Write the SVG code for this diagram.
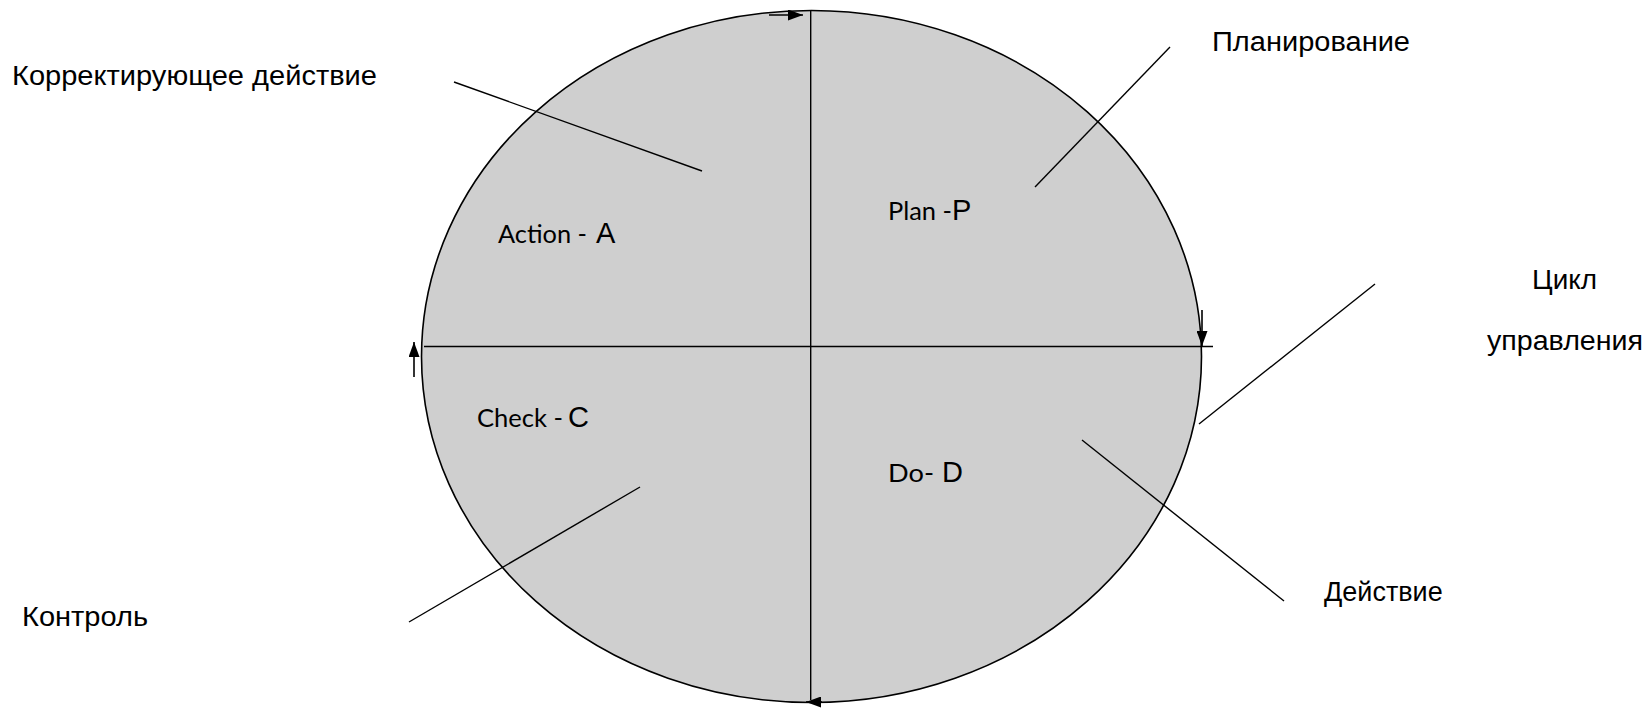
<svg xmlns="http://www.w3.org/2000/svg" width="1648" height="709" viewBox="0 0 1648 709">
  <style>
    .ln { stroke: #000; stroke-width: 1.4; fill: none; }
    .arr { stroke: #000; stroke-width: 1.6; fill: none; marker-end: url(#head); }
    .lbl { font-family: "Liberation Sans", Arial, sans-serif; font-size: 27px; fill: #000; }
    .in { font-family: Lato, "Open Sans", sans-serif; font-size: 25px; fill: #000; }
    .big { font-family: "Liberation Sans", Arial, sans-serif; font-size: 29px; fill: #000; }
  </style>
  <defs>
    <marker id="head" markerUnits="userSpaceOnUse" markerWidth="15" markerHeight="11" refX="15" refY="5.5" orient="auto">
      <path d="M0,0 L15,5.5 L0,11 z" fill="#000"/>
    </marker>
  </defs>

  <rect width="1648" height="709" fill="#fff"/>

  <!-- the management cycle -->
  <g id="cycle">
    <ellipse cx="811.5" cy="356.5" rx="390" ry="346" fill="#cfcfcf" stroke="#000" stroke-width="1.6"/>
    <line class="ln" x1="810.7" y1="11" x2="810.7" y2="700"/>
    <line class="ln" x1="424" y1="346.5" x2="1213" y2="346.5"/>
  </g>

  <!-- direction arrows on the rim -->
  <g id="rim-arrows">
    <line class="arr" x1="769" y1="15" x2="803" y2="15"/>
    <line class="arr" x1="1202" y1="310" x2="1202" y2="346"/>
    <line class="arr" x1="822" y1="702" x2="806" y2="702"/>
    <line class="arr" x1="414" y1="377" x2="414" y2="342"/>
  </g>

  <!-- quadrant labels -->
  <g id="q-action">
    <text x="498" y="243"><tspan class="in" textLength="89" lengthAdjust="spacingAndGlyphs">Action -</tspan><tspan class="big" x="596">A</tspan></text>
  </g>
  <g id="q-plan">
    <text x="888" y="220"><tspan class="in" textLength="64" lengthAdjust="spacingAndGlyphs">Plan -</tspan><tspan class="big" x="952">P</tspan></text>
  </g>
  <g id="q-check">
    <text x="477" y="427"><tspan class="in" textLength="86" lengthAdjust="spacingAndGlyphs">Check -</tspan><tspan class="big" x="568">C</tspan></text>
  </g>
  <g id="q-do">
    <text x="888" y="482"><tspan class="in" textLength="46" lengthAdjust="spacingAndGlyphs">Do-</tspan><tspan class="big" x="942">D</tspan></text>
  </g>

  <!-- callout lines -->
  <g id="connectors">
    <line class="ln" x1="454" y1="82" x2="702" y2="171"/>
    <line class="ln" x1="1170" y1="47" x2="1035" y2="187"/>
    <line class="ln" x1="1375" y1="284" x2="1199" y2="424"/>
    <line class="ln" x1="1082" y1="440" x2="1284" y2="601"/>
    <line class="ln" x1="640" y1="487" x2="409" y2="622"/>
  </g>

  <!-- outer captions -->
  <g id="cap-correct">
    <text class="lbl" x="12" y="85" textLength="365" lengthAdjust="spacingAndGlyphs">Корректирующее действие</text>
  </g>
  <g id="cap-plan">
    <text class="lbl" x="1212" y="51" textLength="198" lengthAdjust="spacingAndGlyphs">Планирование</text>
  </g>
  <g id="cap-cycle">
    <text class="lbl" x="1532" y="289" textLength="65" lengthAdjust="spacingAndGlyphs">Цикл</text>
    <text class="lbl" x="1487" y="350" textLength="156" lengthAdjust="spacingAndGlyphs">управления</text>
  </g>
  <g id="cap-do">
    <text class="lbl" x="1324" y="601">Действие</text>
  </g>
  <g id="cap-check">
    <text class="lbl" x="22" y="626" textLength="126" lengthAdjust="spacingAndGlyphs">Контроль</text>
  </g>
</svg>
